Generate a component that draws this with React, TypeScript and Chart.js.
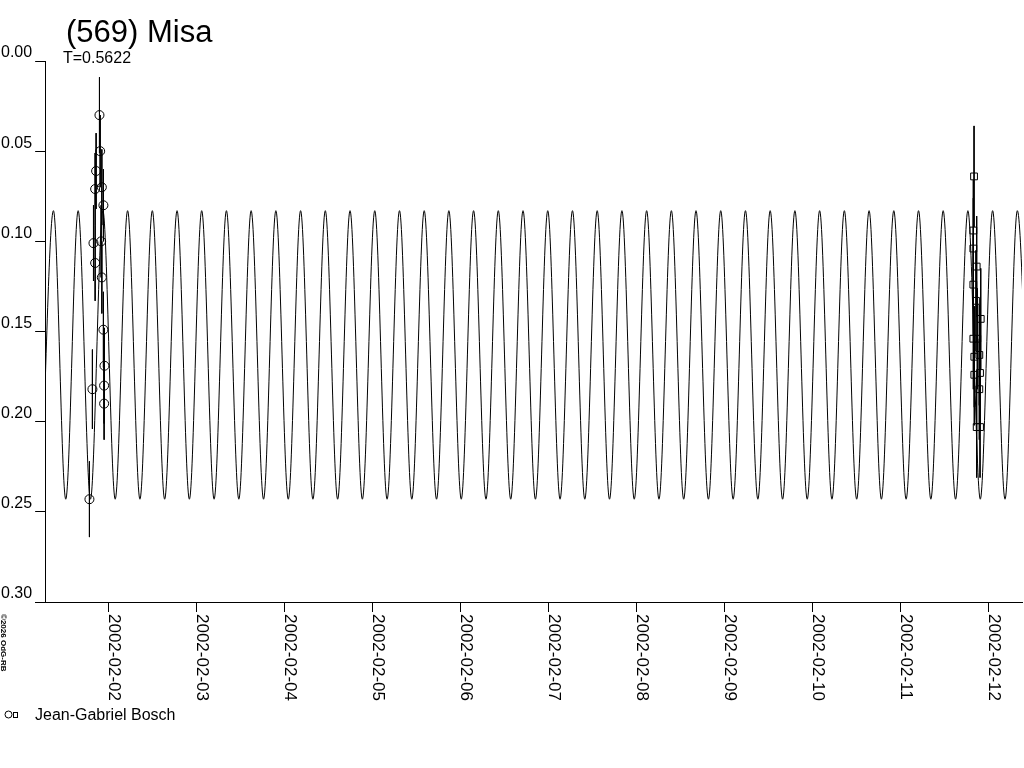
import { useEffect, useRef } from "react";
import { Chart, registerables } from "chart.js";

Chart.register(...registerables);

const FONT = "Arial, 'Liberation Sans', sans-serif";

// x values are days of February 2002
const peakDays = [
  1.375, 1.656, 1.937, 2.218, 2.499, 2.78, 3.06, 3.341, 3.622, 3.903,
  4.184, 4.465, 4.746, 5.027, 5.308, 5.589, 5.869, 6.15, 6.431, 6.712,
  6.993, 7.274, 7.555, 7.836, 8.117, 8.398, 8.678, 8.959, 9.24, 9.521,
  9.802, 10.083, 10.364, 10.645, 10.926, 11.207, 11.487, 11.768, 12.049, 12.33,
];
const troughDays = [
  1.235, 1.515, 1.796, 2.077, 2.358, 2.639, 2.92, 3.201, 3.482, 3.763,
  4.044, 4.324, 4.605, 4.886, 5.167, 5.448, 5.729, 6.01, 6.291, 6.572,
  6.853, 7.133, 7.414, 7.695, 7.976, 8.257, 8.538, 8.819, 9.1, 9.381,
  9.662, 9.942, 10.223, 10.504, 10.785, 11.066, 11.347, 11.628, 11.909, 12.19,
  12.471,
];
const peakMag = 0.083;
const troughMag = 0.243;

// Jean-Gabriel Bosch, first night (circles)
const circleDays = [
  1.898, 1.906, 1.86, 1.849, 1.925, 1.943, 1.83, 1.917,
  1.849, 1.925, 1.943, 1.955, 1.818, 1.951, 1.951, 1.784,
];
const circleMags = [
  0.03, 0.05, 0.061, 0.071, 0.07, 0.08, 0.101, 0.1,
  0.112, 0.12, 0.149, 0.169, 0.182, 0.18, 0.19, 0.243,
];
const circleErrs = [
  0.021, 0.02, 0.021, 0.02, 0.021, 0.02, 0.021, 0.02,
  0.021, 0.02, 0.021, 0.021, 0.022, 0.021, 0.02, 0.021,
];

// second night (squares)
const squareDays = [
  11.838, 11.83, 11.83, 11.868, 11.83, 11.86, 11.914, 11.83,
  11.875, 11.841, 11.898, 11.841, 11.906, 11.898, 11.868, 11.906,
];
const squareMags = [
  0.064, 0.094, 0.104, 0.114, 0.124, 0.133, 0.143, 0.154,
  0.154, 0.164, 0.163, 0.174, 0.173, 0.182, 0.203, 0.203,
];
const squareErrs = [
  0.028, 0.028, 0.028, 0.028, 0.028, 0.028, 0.028, 0.028,
  0.028, 0.028, 0.028, 0.028, 0.028, 0.028, 0.028, 0.028,
];

const dayTicks = [2, 3, 4, 5, 6, 7, 8, 9, 10, 11, 12];
const dayLabels = [
  "2002-02-02", "2002-02-03", "2002-02-04", "2002-02-05", "2002-02-06",
  "2002-02-07", "2002-02-08", "2002-02-09", "2002-02-10", "2002-02-11", "2002-02-12",
];
const magTicks = [0, 0.05, 0.1, 0.15, 0.2, 0.25, 0.3];

const titleText = "(569) Misa";
const periodText = "T=0.5622";
const observerText = "Jean-Gabriel Bosch";
const creditText = "\u00a92026 OdG-RB";

function errorBars(days: number[], mags: number[], errs: number[]) {
  return days.flatMap((d, i) => [
    { x: d, y: mags[i] - errs[i] },
    { x: d, y: mags[i] + errs[i] },
    { x: d, y: null },
  ]);
}

const overlay = {
  id: "overlay",
  afterDraw(chart: any) {
    const ctx = chart.ctx as CanvasRenderingContext2D;
    const xs = chart.scales.x;
    const { left, bottom } = chart.chartArea;
    ctx.save();
    ctx.fillStyle = "#000";
    ctx.strokeStyle = "#000";
    ctx.lineWidth = 1;

    // x axis line runs on under the 0.30 tick
    ctx.beginPath();
    ctx.moveTo(Math.round(left) - 10, Math.round(bottom) + 0.5);
    ctx.lineTo(Math.round(left), Math.round(bottom) + 0.5);
    ctx.stroke();

    // date labels, turned clockwise
    ctx.font = `17px ${FONT}`;
    ctx.textAlign = "left";
    ctx.textBaseline = "alphabetic";
    dayTicks.forEach((d, i) => {
      ctx.save();
      ctx.translate(Math.round(xs.getPixelForValue(d)) + 1, bottom + 12);
      ctx.rotate(Math.PI / 2);
      ctx.fillText(dayLabels[i], 0, 0);
      ctx.restore();
    });

    // titles
    ctx.font = `31px ${FONT}`;
    ctx.fillText(titleText, 66, 42);
    ctx.font = `16px ${FONT}`;
    ctx.fillText(periodText, 63, 63);

    // legend
    ctx.beginPath();
    ctx.arc(8.5, 714.5, 3.5, 0, Math.PI * 2);
    ctx.stroke();
    ctx.strokeRect(13.5, 712.5, 4, 5);
    ctx.font = `16px ${FONT}`;
    ctx.fillText(observerText, 35, 720);

    // credit
    ctx.save();
    ctx.font = `bold 8px ${FONT}`;
    ctx.translate(1, 614);
    ctx.rotate(Math.PI / 2);
    ctx.fillText(creditText, 0, 0);
    ctx.restore();

    ctx.restore();
  },
};

export default function App() {
  const canvasRef = useRef<HTMLCanvasElement>(null);

  useEffect(() => {
    if (!canvasRef.current) return;

    const curve = [
      ...peakDays.map((d) => ({ x: d, y: peakMag })),
      ...troughDays.map((d) => ({ x: d, y: troughMag })),
    ].sort((a, b) => a.x - b.x);

    const chart = new Chart(canvasRef.current, {
      type: "scatter",
      data: {
        datasets: [
          {
            label: "circles",
            data: circleDays.map((d, i) => ({ x: d, y: circleMags[i] })),
            pointStyle: "circle",
            pointRadius: 4.5,
            borderColor: "#000",
            backgroundColor: "rgba(0,0,0,0)",
            borderWidth: 1,
          },
          {
            label: "squares",
            data: squareDays.map((d, i) => ({ x: d, y: squareMags[i] })),
            pointStyle: "rect",
            pointRadius: 4.8,
            borderColor: "#000",
            backgroundColor: "rgba(0,0,0,0)",
            borderWidth: 1,
          },
          {
            label: "errors",
            data: [
              ...errorBars(circleDays, circleMags, circleErrs),
              ...errorBars(squareDays, squareMags, squareErrs),
            ] as any,
            showLine: true,
            spanGaps: false,
            pointRadius: 0,
            borderColor: "#000",
            borderWidth: 1,
          },
          {
            label: "model",
            data: curve,
            showLine: true,
            pointRadius: 0,
            borderColor: "#000",
            borderWidth: 1,
            cubicInterpolationMode: "monotone",
          },
        ],
      },
      options: {
        responsive: false,
        devicePixelRatio: 1,
        animation: false,
        layout: { autoPadding: false, padding: { top: 61, right: 2, bottom: 156, left: -2 } },
        plugins: {
          legend: { display: false },
          tooltip: { enabled: false },
          title: { display: false },
        },
        scales: {
          x: {
            type: "linear",
            min: 1.2807,
            max: 12.383,
            afterBuildTicks: (s: any) => {
              s.ticks = dayTicks.map((v) => ({ value: v }));
            },
            ticks: { display: false },
            grid: { drawOnChartArea: false, drawTicks: true, tickLength: 10, color: "#000" },
            border: { display: true, color: "#000", width: 1 },
          },
          y: {
            type: "linear",
            reverse: true,
            min: 0,
            max: 0.3,
            afterBuildTicks: (s: any) => {
              s.ticks = magTicks.map((v) => ({ value: v }));
            },
            ticks: {
              color: "#000",
              font: { family: FONT, size: 16 },
              padding: 3,
              labelOffset: -8,
              callback: (v: any) => Number(v).toFixed(2),
            },
            grid: { drawOnChartArea: false, drawTicks: true, tickLength: 10, color: "#000" },
            border: { display: true, color: "#000", width: 1 },
          },
        },
      },
      plugins: [overlay],
    });

    return () => {
      chart.destroy();
    };
  }, []);

  return (
    <div style={{ position: "absolute", left: 0, top: 0, width: "1024px", height: "768px", background: "#fff" }}>
      <canvas ref={canvasRef} width={1024} height={768} />
    </div>
  );
}
